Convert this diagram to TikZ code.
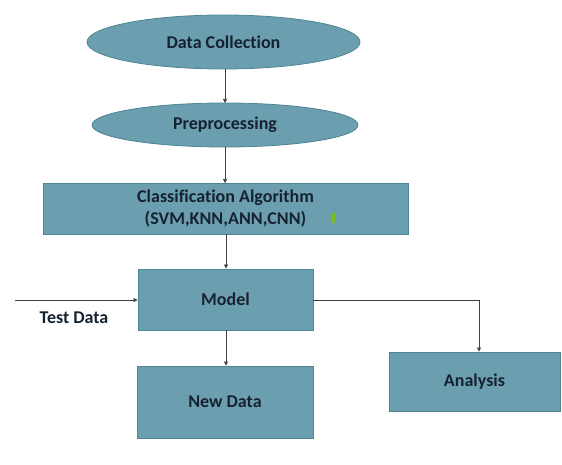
\documentclass[tikz,border=0pt]{standalone}
\usepackage{fontspec}
\setmainfont[Ligatures=NoCommon]{Carlito}
\usetikzlibrary{shapes.geometric,arrows.meta}
\definecolor{boxfill}{HTML}{6B9FAF}
\definecolor{boxedge}{HTML}{4F8494}
\definecolor{txt}{HTML}{172230}
\definecolor{greenmark}{HTML}{7DBE1E}
\tikzset{
  lbl/.style={font=\fontsize{18}{22}\selectfont\bfseries, text=txt},
  ell/.style={ellipse, draw=boxedge, fill=boxfill, line width=0.8pt, inner sep=0pt, lbl},
  blk/.style={rectangle, draw=boxedge, fill=boxfill, line width=0.8pt, inner sep=0pt, lbl, align=center},
  conn/.style={draw=black!75, line width=0.6pt, -{Triangle[length=4pt,width=4pt]}}
}
\begin{document}
\begin{tikzpicture}[x=1pt,y=-1pt]
\useasboundingbox (0,0) rectangle (562,465);
\node[ell, minimum width=273pt, minimum height=54pt] (dc) at (223.5,42) {Data Collection};
\node[ell, minimum width=266pt, minimum height=44pt] (pp) at (225,125) {Preprocessing};
\node[blk, minimum width=365pt, minimum height=51pt] (ca) at (225.5,208.5) {Classification Algorithm\\(SVM,KNN,ANN,CNN)};
\node[blk, minimum width=175pt, minimum height=61pt] (mo) at (225.5,299.5) {Model};
\node[blk, minimum width=176pt, minimum height=72pt] (nd) at (225,402) {New Data};
\node[blk, minimum width=171pt, minimum height=59pt] (an) at (474.5,381.5) {Analysis};
\fill[greenmark] (332,213) rectangle (334.5,223);
\coordinate (td) at (15,300);
\node[lbl, inner sep=0pt] (tdl) at (74,318) {Test Data};
\draw[conn] (dc.south -| 225,0) -- (225,103);
\draw[conn] (pp.south -| 225,0) -- (225,183);
\draw[conn] (ca.south -| 226,0) -- (mo.north -| 226,0);
\draw[conn] (td) -- (td -| mo.west);
\draw[conn] (mo.south -| 226,0) -- (nd.north -| 226,0);
\draw[conn] (mo.east |- 0,300) -| (an.north -| 479,0);
\end{tikzpicture}
\end{document}
